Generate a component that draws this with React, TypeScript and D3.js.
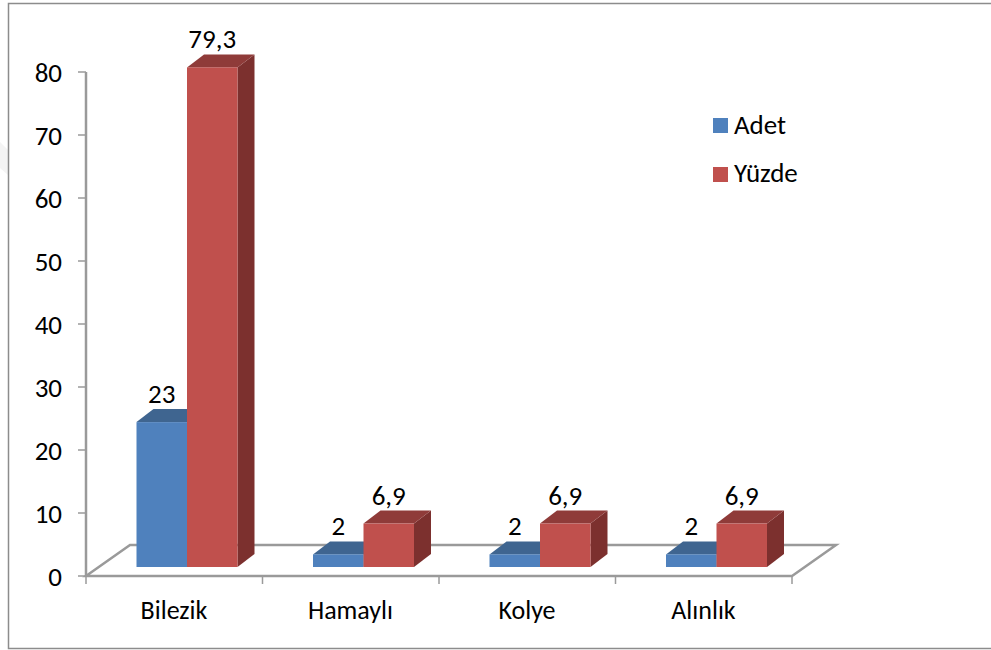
import React from "react";
import * as d3 from "d3";

const categories = ["Bilezik", "Hamaylı", "Kolye", "Alınlık"];
const adet = [23, 2, 2, 2];
const yuzde = [79.3, 6.9, 6.9, 6.9];
const adetLabels = ["23", "2", "2", "2"];
const yuzdeLabels = ["79,3", "6,9", "6,9", "6,9"];
const yTicks = [0, 10, 20, 30, 40, 50, 60, 70, 80];
const legendNames = ["Adet", "Yüzde"];

const FONT = "Carlito, 'Open Sans', 'Noto Sans', sans-serif";
const GRID = "#9a9a9a";

const y = d3.scaleLinear().domain([0, 80]).range([576, 72]);
const x = d3.scaleBand<string>().domain(categories).range([86, 792]);
const dx = 17, dy = 13, floorDx = 44, floorDy = 31, lift = 9;

function Bar({ x0, w, v, c }: { x0: number; w: number; v: number; c: string[] }) {
  const b = y(0) - lift;
  const t = y(v) - lift;
  const x1 = x0 + w;
  return (
    <g>
      <path d={`M${x1},${b}L${x1 + dx},${b - dy}L${x1 + dx},${t - dy}L${x1},${t}Z`} fill={c[2]} />
      <path d={`M${x0},${t}L${x0 + dx},${t - dy}L${x1 + dx},${t - dy}L${x1},${t}Z`} fill={c[1]} />
      <rect x={x0} y={t} width={w} height={b - t} fill={c[0]} />
    </g>
  );
}

const BLUE = ["#4f81bd", "#3f6590", "#3a5f8a"];
const RED = ["#c0504d", "#8f3b39", "#7c302e"];

export default function App() {
  const bw = 50.5;
  return (
    <svg width={991} height={650} style={{ position: "absolute", left: 0, top: 0, background: "#fff" }} fontFamily={FONT}>
      <path d="M0,142L8,150V175L0,168Z" fill="#f4f4f4" />
      <path d="M991,3.5H8.5V648.5H991" fill="none" stroke="#8c8c8c" strokeWidth={1.5} />
      <g stroke={GRID} strokeWidth={2.5} fill="none">
        <path d={`M${x.range()[0] + floorDx},${y(0) - floorDy}H${x.range()[1] + floorDx}L${x.range()[1]},${y(0)}H${x.range()[0]}Z`} />
        <line x1={86} x2={86} y1={y(80)} y2={y(0)} />
      </g>
      <g stroke={GRID} strokeWidth={1.5}>
        {yTicks.map((t) => (
          <line key={t} x1={78} x2={86} y1={y(t)} y2={y(t)} />
        ))}
        {[...categories.map((c) => x(c)!), x.range()[1]].map((p, i) => (
          <line key={i} x1={p} x2={p} y1={y(0)} y2={y(0) + 8} />
        ))}
      </g>
      <g fontSize={27} fill="#000" textAnchor="end">
        {yTicks.map((t) => (
          <text key={t} x={62} y={y(t) + 10}>{t}</text>
        ))}
      </g>
      {categories.map((c, i) => {
        const x0 = x(c)! + 50.5;
        return (
          <g key={c}>
            <Bar x0={x0} w={bw} v={adet[i]} c={BLUE} />
            <Bar x0={x0 + bw} w={bw} v={yuzde[i]} c={RED} />
            <text x={x0 + bw / 2} y={y(adet[i]) - lift - 19} fontSize={27} textAnchor="middle">{adetLabels[i]}</text>
            <text x={x0 + bw * 1.5} y={y(yuzde[i]) - lift - 19} fontSize={27} textAnchor="middle">{yuzdeLabels[i]}</text>
            <text x={x(c)! + 88} y={619} fontSize={26} textAnchor="middle">{c}</text>
          </g>
        );
      })}
      {legendNames.map((n, i) => (
        <g key={n}>
          <rect x={713} y={118 + i * 49} width={15} height={15} fill={i ? RED[0] : BLUE[0]} />
          <text x={734} y={134 + i * 48} fontSize={27}>{n}</text>
        </g>
      ))}
    </svg>
  );
}
